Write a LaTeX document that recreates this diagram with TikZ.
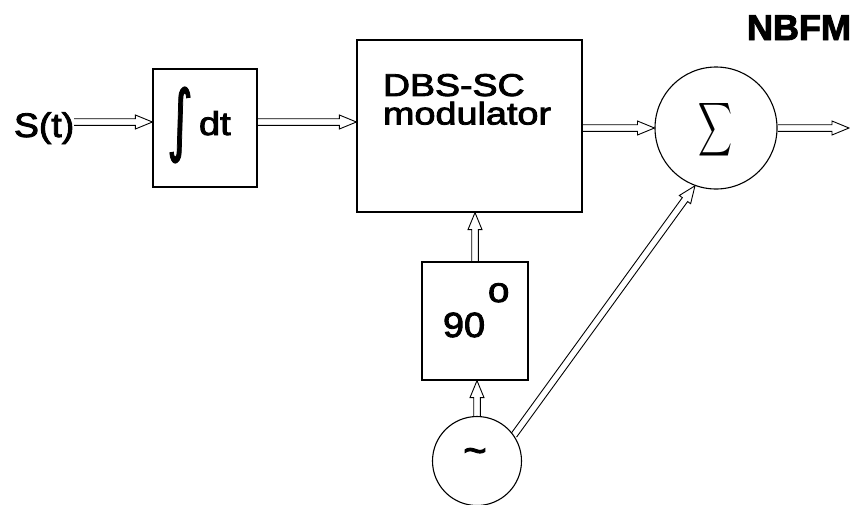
\documentclass[tikz,border=0pt]{standalone}
\usepackage{fontspec}
\setmainfont{Liberation Sans}
\newfontfamily\heavy{Liberation Sans}[FakeBold=2.5]
\newfontfamily\symheavy{DejaVu Sans}[FakeBold=1.5]
\usepackage{graphicx}
\usetikzlibrary{calc}

% hollow block arrow (double shaft, open head) from #1 to #2
\newcommand\hollowarrow[2]{%
  \path (#1) coordinate (hatail) (#2) coordinate (hatip);
  \path ($(hatip)!17pt!(hatail)$) coordinate (habase);
  \draw[arrowline]
    ($(hatail)!3.3pt!90:(hatip)$) -- ($(habase)!3.3pt!-90:(hatail)$)
    -- ($(habase)!7pt!-90:(hatail)$) -- (hatip)
    -- ($(habase)!7pt!90:(hatail)$) -- ($(habase)!3.3pt!90:(hatail)$)
    -- ($(hatail)!3.3pt!-90:(hatip)$);
}

\tikzset{
  block/.style={draw, line width=1.2pt, inner sep=0pt},
  ring/.style={draw, circle, line width=1.1pt, inner sep=0pt},
  txt/.style={inner sep=0pt, outer sep=0pt, font=\heavy},
  arrowline/.style={line width=0.9pt, line join=miter},
}

\begin{document}
\begin{tikzpicture}[x=1pt, y=-1pt]
  \fill[white] (0,0) rectangle (850,504);
  \useasboundingbox (0,0) rectangle (850,504);

  % blocks
  \node[block, minimum width=104pt, minimum height=118pt] (int) at (205,128) {};
  \node[block, minimum width=225pt, minimum height=172pt] (dbs) at (469.5,126) {};
  \node[block, minimum width=106pt, minimum height=118pt] (ph) at (475,321) {};
  \node[ring, minimum size=122pt] (sum) at (716,128) {};
  \node[ring, minimum size=89pt] (osc) at (477,461) {};

  % labels
  \node[txt, anchor=base west] (stlabel) at (14,137)
    {\fontsize{34}{34}\selectfont\scalebox{1.1}[1]{S(t)}};
  \node[txt] (intsym) at (180,125)
    {\resizebox*{26pt}{76pt}{\symheavy ∫}};
  \node[txt, anchor=base west] (intdt) at (199,135)
    {\fontsize{33}{33}\selectfont\scalebox{1.15}[1]{dt}};
  \node[txt, anchor=north west, align=left,
        font={\heavy\fontsize{31.5}{28.5}\selectfont}] (dbstext) at (383,74)
    {\scalebox{1.19}[1]{DBS-SC}\\\scalebox{1.2}[1]{modulator}};
  \node[txt] (sumsym) at (715,130)
    {\resizebox*{34pt}{60pt}{$\displaystyle\sum$}};
  \node[txt, anchor=base east] (nbfm) at (851,40)
    {\fontsize{36}{36}\selectfont\bfseries NBFM};
  \node[txt, anchor=base west] (deg) at (443,337)
    {\fontsize{35}{35}\selectfont\scalebox{1.08}[1]{90}};
  \node[txt, anchor=base west] (degsign) at (488,302)
    {\fontsize{35}{35}\selectfont\scalebox{1.1}[1]{o}};
  \node[txt] (tilde) at (475,456)
    {\fontsize{40}{40}\selectfont\textasciitilde};

  % connectors
  \coordinate (row) at (0,122);
  \coordinate (out) at (849,128);
  \hollowarrow{stlabel.east |- row}{int.west |- row}
  \hollowarrow{int.east |- row}{dbs.west |- row}
  \hollowarrow{dbs.east |- sum.center}{sum.west}
  \hollowarrow{sum.east}{out}
  \hollowarrow{ph.north}{ph.north |- dbs.south}
  \hollowarrow{osc.north}{osc.north |- ph.south}
  \hollowarrow{osc.35}{sum.250}
\end{tikzpicture}
\end{document}
